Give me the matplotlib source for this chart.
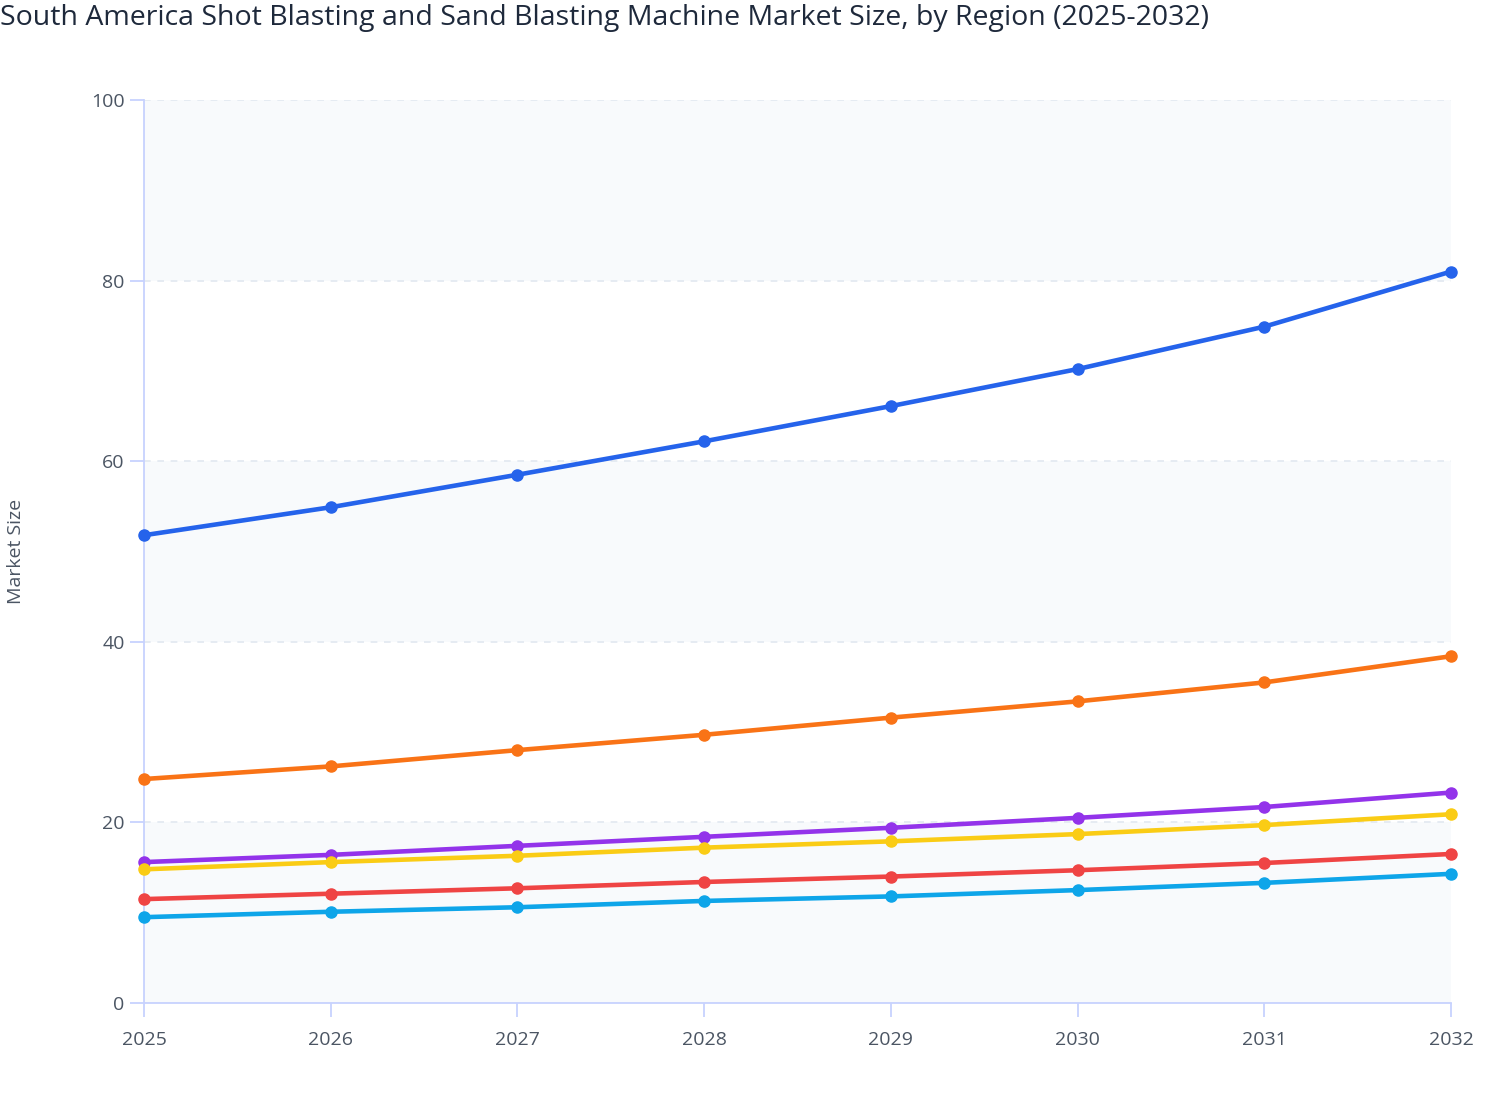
import matplotlib.pyplot as plt

plt.rcParams['font.family'] = ['Open Sans', 'DejaVu Sans']

years = [2025, 2026, 2027, 2028, 2029, 2030, 2031, 2032]

# market size per region (region names are not shown in the chart)
series_blue = [51.8, 54.9, 58.5, 62.2, 66.1, 70.2, 74.9, 81.0]
series_orange = [24.8, 26.2, 28.0, 29.7, 31.6, 33.4, 35.5, 38.4]
series_purple = [15.6, 16.4, 17.4, 18.4, 19.4, 20.5, 21.7, 23.3]
series_yellow = [14.8, 15.6, 16.3, 17.2, 17.9, 18.7, 19.7, 20.9]
series_red = [11.5, 12.1, 12.7, 13.4, 14.0, 14.7, 15.5, 16.5]
series_cyan = [9.5, 10.1, 10.6, 11.3, 11.8, 12.5, 13.3, 14.3]

y_ticks = [0, 20, 40, 60, 80, 100]

fig = plt.figure(figsize=(15.08, 11.2), dpi=100)
ax = fig.add_axes([0.0955, 0.1045, 0.8667, 0.8062])

# alternating background bands
for i in range(len(y_ticks) - 1):
    if i % 2 == 0:
        ax.axhspan(y_ticks[i], y_ticks[i + 1], color='#f8fafc', zorder=0, lw=0)

for t in y_ticks[1:]:
    ax.axhline(t, color='#e2e8f0', lw=1.2, ls=(0, (4, 4)), zorder=1)

lines = [
    (series_blue, '#2563eb'),
    (series_orange, '#f97316'),
    (series_purple, '#9333ea'),
    (series_yellow, '#facc15'),
    (series_red, '#ef4444'),
    (series_cyan, '#0ea5e9'),
]
for vals, col in lines:
    ax.plot(years, vals, color=col, lw=3.3, marker='o', markersize=8,
            zorder=3, clip_on=False)

ax.set_xlim(2025, 2032)
ax.set_ylim(0, 100)
ax.set_xticks(years)
ax.set_yticks(y_ticks)

for side in ['top', 'right']:
    ax.spines[side].set_visible(False)
for side in ['left', 'bottom']:
    ax.spines[side].set_color('#c7d2fe')
    ax.spines[side].set_linewidth(1.3)

ax.tick_params(axis='both', colors='#c7d2fe', length=10, width=1.3,
               labelcolor='#4b5563', labelsize=14)
ax.tick_params(axis='x', pad=10)
ax.tick_params(axis='y', pad=4)

ax.set_ylabel('Market Size', fontsize=14, color='#4b5563')
ax.yaxis.set_label_coords(-0.091, 0.5)

fig.text(0.0, 0.984, 'South America Shot Blasting and Sand Blasting Machine Market Size, by Region (2025-2032)',
         fontsize=20.5, color='#1e293b', ha='left', va='center')

fig.savefig('out.png', dpi=100, facecolor='white')
